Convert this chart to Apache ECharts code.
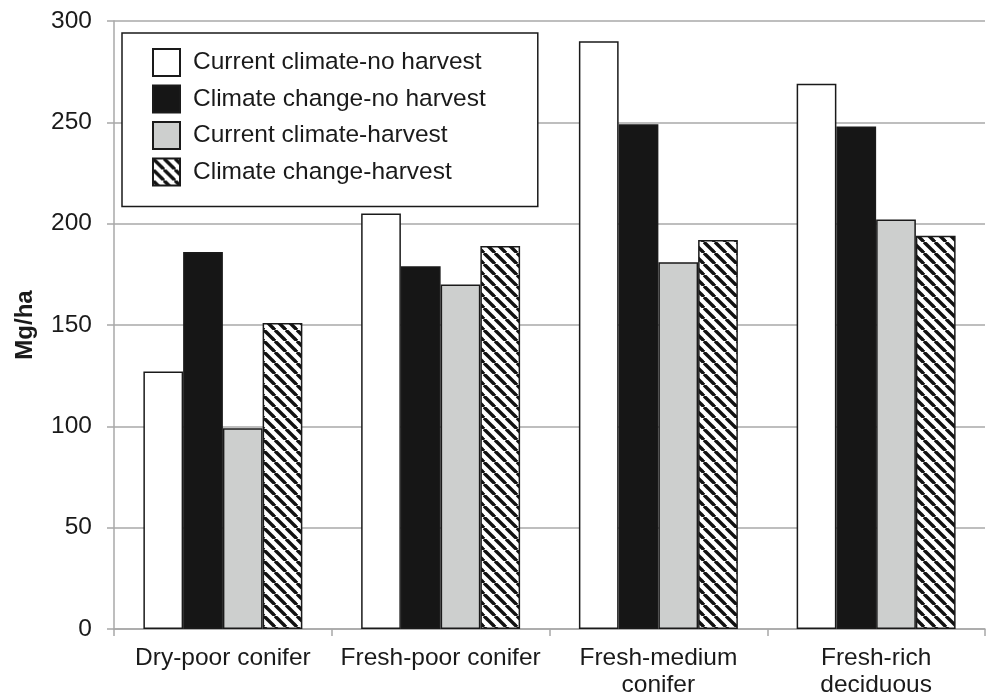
<!DOCTYPE html>
<html>
<head>
<meta charset="utf-8">
<script src="https://cdn.jsdelivr.net/npm/echarts@6/dist/echarts.min.js"></script>
<style>
  html, body { margin: 0; padding: 0; background: #fff; }
  #main { width: 987px; height: 699px; }
</style>
</head>
<body>
<div id="main"></div>
<script>
// categories and values (Mg/ha)
var categories = ['Dry-poor conifer', 'Fresh-poor conifer', 'Fresh-medium\nconifer', 'Fresh-rich\ndeciduous'];
var seriesNames = ['Current climate-no harvest', 'Climate change-no harvest', 'Current climate-harvest', 'Climate change-harvest'];
var currentNoHarvest = [127, 205, 290, 269];
var changeNoHarvest = [186, 179, 249, 248];
var currentHarvest = [99, 170, 181, 202];
var changeHarvest = [151, 189, 192, 194];
var yTicks = [0, 50, 100, 150, 200, 250, 300];

// diagonal hatch for the last series
function hatch() {
  var s = 11;
  var c = document.createElement('canvas');
  c.width = s; c.height = s;
  var ctx = c.getContext('2d');
  ctx.fillStyle = '#fff';
  ctx.fillRect(0, 0, s, s);
  ctx.strokeStyle = '#111';
  ctx.lineWidth = 3.4;
  for (var k = -1; k <= 1; k++) {
    ctx.beginPath();
    ctx.moveTo(k * s, 0);
    ctx.lineTo(k * s + s, s);
    ctx.stroke();
  }
  return { image: c, repeat: 'repeat' };
}

var chart = echarts.init(document.getElementById('main'));

var font = 'Liberation Sans, Arial, sans-serif';
var fills = ['#ffffff', '#161616', '#cdcfce', hatch()];
var values = [currentNoHarvest, changeNoHarvest, currentHarvest, changeHarvest];

var series = [];
for (var i = 0; i < seriesNames.length; i++) {
  series.push({
    name: seriesNames[i],
    type: 'bar',
    data: values[i],
    barGap: '0%',
    barCategoryGap: '27%',
    itemStyle: {
      color: fills[i],
      borderColor: '#1a1a1a',
      borderWidth: 1.5
    }
  });
}

var option = {
  backgroundColor: '#fff',
  animation: false,
  textStyle: { fontFamily: font },
  grid: { left: 114, right: 2, top: 21, bottom: 65 },
  legend: {
    data: seriesNames,
    orient: 'vertical',
    left: 122,
    top: 33,
    itemWidth: 27,
    itemHeight: 27,
    itemGap: 7.5,
    padding: [15, 52, 20, 30],
    borderColor: '#1a1a1a',
    borderWidth: 1.5,
    backgroundColor: '#fff',
    icon: 'rect',
    textStyle: { fontSize: 24.5, lineHeight: 27, color: '#1a1a1a', padding: [0, 0, 0, 8], fontFamily: font }
  },
  xAxis: {
    type: 'category',
    data: categories,
    axisLine: { lineStyle: { color: '#a8a8a8', width: 1.5 } },
    axisTick: { show: true, length: 7, lineStyle: { color: '#a8a8a8', width: 1.5 } },
    axisLabel: { fontSize: 24.5, color: '#1a1a1a', margin: 16, lineHeight: 27, interval: 0 }
  },
  yAxis: {
    type: 'value',
    min: yTicks[0],
    max: yTicks[yTicks.length - 1],
    interval: 50,
    name: 'Mg/ha',
    nameLocation: 'middle',
    nameRotate: 90,
    nameGap: 77,
    nameTextStyle: { fontSize: 24, fontWeight: 'bold', color: '#1a1a1a' },
    axisLine: { show: true, lineStyle: { color: '#a8a8a8', width: 1.5 } },
    axisTick: { show: true, length: 7, lineStyle: { color: '#a8a8a8', width: 1.5 } },
    axisLabel: { fontSize: 24.5, color: '#1a1a1a', margin: 22 },
    splitLine: { lineStyle: { color: '#a8a8a8', width: 1.5 } }
  },
  series: series
};

chart.setOption(option);
</script>
</body>
</html>
